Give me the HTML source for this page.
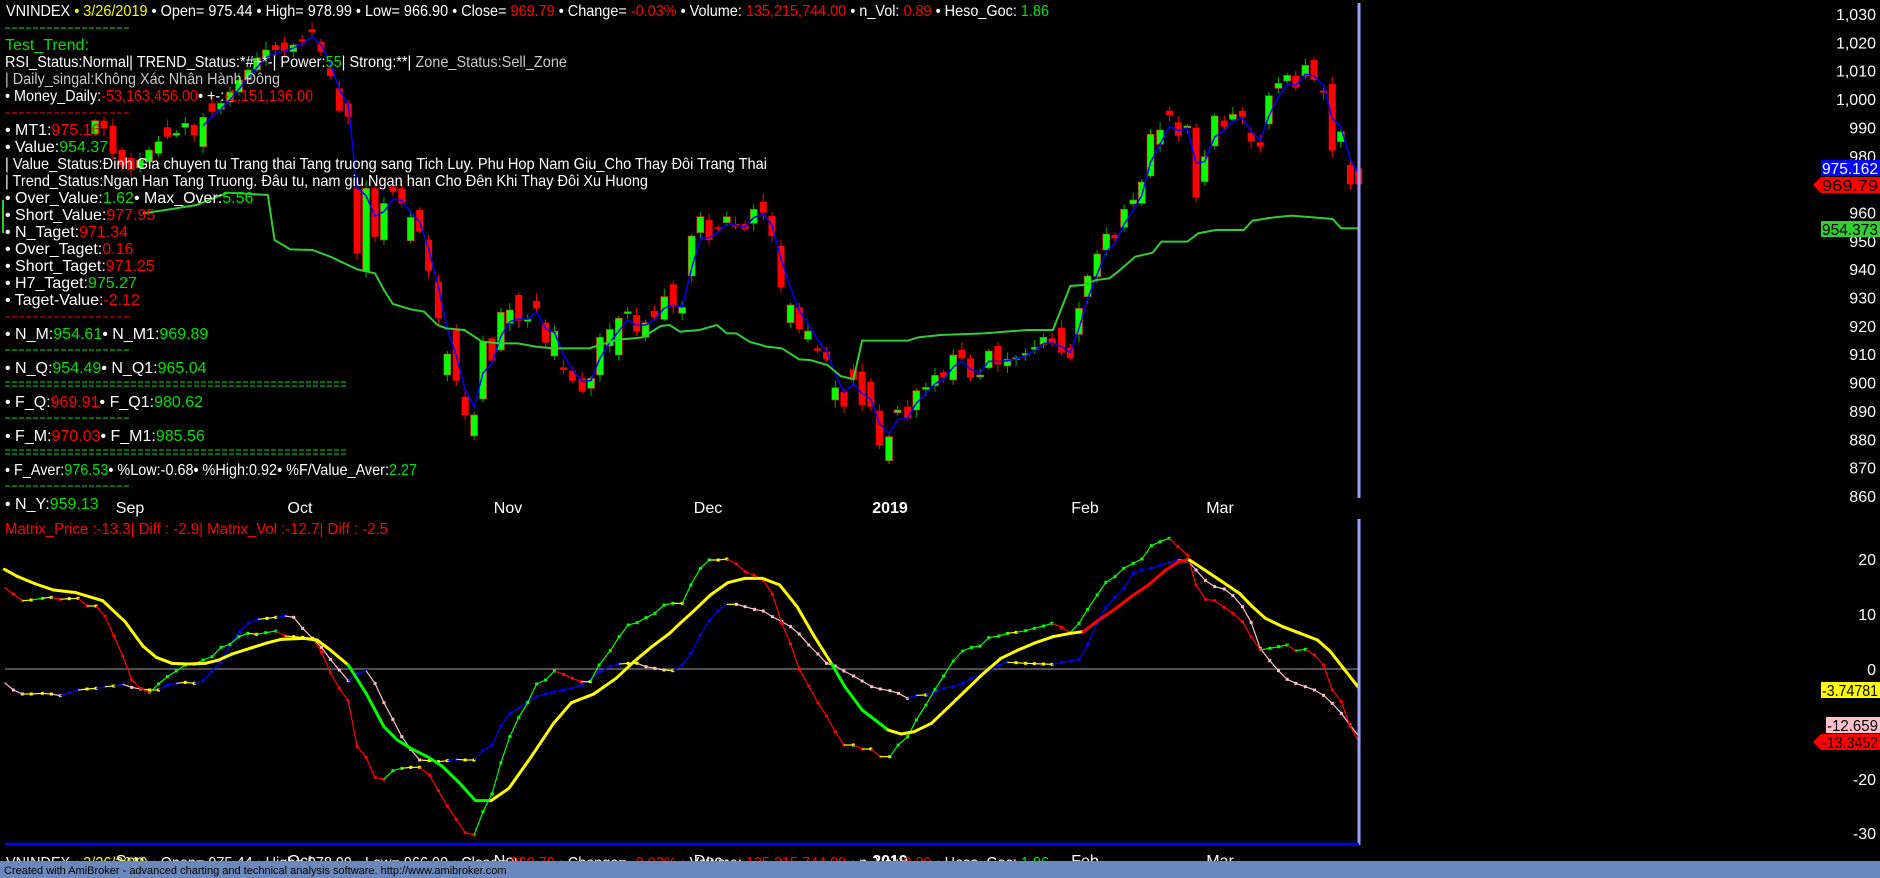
<!DOCTYPE html>
<html><head><meta charset="utf-8"><style>
html,body{margin:0;padding:0;background:#000;width:1880px;height:878px;overflow:hidden}
svg{display:block}
text{font-family:"Liberation Sans",Arial,sans-serif;font-size:16px}
</style></head><body>
<svg id="s" width="1880" height="878" viewBox="0 0 1880 878" xmlns="http://www.w3.org/2000/svg">
<rect x="0" y="0" width="1880" height="878" fill="#000"/>
<g id="top"></g>
<g id="bot"></g>
<g id="txt" fill="#fff"></g>
<rect x="0" y="861" width="1880" height="17" fill="#6a88bb"/>
<text x="4" y="874" style="font-size:11px" fill="#000">Created with AmiBroker - advanced charting and technical analysis software. http://www.amibroker.com</text>
</svg>
<script>
const NS="http://www.w3.org/2000/svg";
function el(p,t,a,txt){const e=document.createElementNS(NS,t);for(const k in a)e.setAttribute(k,a[k]);if(txt!==undefined)e.textContent=txt;p.appendChild(e);return e;}
const S=document.getElementById('s'),TOP=document.getElementById('top'),BOT=document.getElementById('bot'),TX=document.getElementById('txt');
const L=(p,o)=>[p[0]/2.24,p[1]/3+o], R=(p,o)=>[680+p[0]/2.306,p[1]/3+o];
function merge(l,r,o){const a=l.map(p=>L(p,o)).filter(p=>p[0]<678);return a.concat(r.map(p=>R(p,o)));}

const lc=[[213,362,402,'g'],[233,362,385,'r'],[253,377,460,'r'],[355,425,460,'g'],[375,382,410,'r'],[395,400,404,'g'],[415,370,382,'g'],[435,375,405,'r'],[455,352,440,'g'],[475,310,335,'r'],[495,310,328,'g'],
[617,135,150,'r'],[637,128,155,'r'],[657,135,155,'g'],[677,118,125,'r'],[699,88,97,'r'],[719,125,155,'r'],[740,205,228,'r'],[760,265,332,'r'],[780,310,350,'r'],
[800,565,760,'r'],[820,565,815,'g'],[840,565,710,'r'],[860,610,720,'g'],[880,560,575,'r'],[900,565,610,'r'],[920,652,722,'g'],[940,630,695,'r'],[960,720,812,'r'],[982,845,955,'r'],[1002,1062,1125,'g'],[1022,990,1142,'r'],[1042,1190,1245,'r'],[1062,1245,1308,'g'],[1082,1025,1197,'g'],[1102,1015,1082,'r'],[1122,937,1050,'g'],[1142,930,970,'g'],[1162,885,962,'r'],[1182,958,962,'g'],[1202,903,925,'r'],[1222,968,1028,'r'],[1242,993,1068,'g'],[1262,1102,1110,'r'],[1282,1112,1142,'r'],[1304,1135,1175,'r'],[1324,1135,1165,'g'],[1344,1012,1125,'g'],[1366,988,1038,'g'],[1386,955,1065,'g'],[1406,935,940,'g'],[1426,945,995,'r'],[1446,968,1012,'g'],[1466,933,952,'r'],[1488,890,958,'g'],[1508,853,920,'r']];
const rc=[[5,922,940,'g'],[27,708,828,'g'],[47,650,698,'g'],[67,660,720,'r'],[88,682,686,'r'],[108,650,668,'g'],[128,672,680,'r'],[150,672,687,'r'],[170,628,670,'g'],[192,605,638,'r'],[212,648,708,'r'],[233,738,862,'r'],[255,915,968,'g'],[275,922,987,'r'],[295,993,1018,'g'],[317,1045,1052,'r'],[338,1055,1078,'r'],[358,1163,1200,'g'],[378,1175,1220,'r'],[400,1108,1140,'r'],[420,1115,1215,'r'],[440,1145,1220,'r'],[460,1232,1335,'r'],[482,1310,1382,'g'],[502,1230,1238,'g'],[525,1220,1255,'r'],[545,1172,1230,'g'],[567,1162,1168,'g'],[588,1126,1157,'g'],[608,1117,1132,'r'],[630,1065,1140,'g'],[650,1050,1075,'r'],[670,1075,1133,'r'],[692,1125,1128,'g'],[712,1053,1103,'g'],[733,1038,1093,'r'],[755,1078,1098,'g'],[775,1073,1076,'g'],[797,1060,1064,'g'],[818,1042,1045,'g'],[838,1012,1033,'g'],[858,1015,1030,'r'],[880,983,1058,'r'],[900,1043,1075,'r'],[920,925,1003,'g'],[940,828,890,'g'],[962,762,830,'g'],[983,702,750,'g'],[1003,705,715,'r'],[1024,628,682,'g'],[1045,600,612,'g'],[1065,546,610,'g'],[1085,403,528,'g'],[1107,390,433,'g'],[1129,332,345,'r'],[1149,367,407,'r'],[1170,378,383,'g'],[1190,383,593,'r'],[1210,470,545,'g'],[1233,348,438,'g'],[1255,362,380,'r'],[1275,343,358,'g'],[1297,333,350,'r'],[1317,398,425,'r'],[1338,427,440,'r'],[1358,287,372,'g'],[1380,250,265,'g'],[1400,226,243,'g'],[1420,227,262,'r'],[1442,196,228,'g'],[1462,180,240,'r'],[1484,272,276,'r'],[1504,252,452,'r'],[1524,395,425,'g'],[1546,495,553,'r'],[1565,505,553,'r']];
let C=[];
lc.forEach(c=>C.push([c[0]/2.24,c[1]/3,c[2]/3,c[3]]));
[[230,92,102,'g'],[239,80,92,'g'],[248,70,80,'g'],[257,58,70,'g'],[266,50,58,'g'],[122,150,165,'r'],[131,158,170,'r'],[140,160,168,'g'],[149,150,162,'g']].forEach(c=>C.push(c));
rc.forEach(c=>C.push([680+c[0]/2.306,c[1]/3,c[2]/3,c[3]]));
C.sort((a,b)=>a[0]-b[0]);
let ema=null,bl=[];
C.forEach((c,i)=>{const cl=c[3]=='g'?c[1]:c[2];const v=(c[1]+c[2])/2*0.3+cl*0.7;ema=ema===null?v:ema*0.4+v*0.6;bl.push([c[0],ema]);});
C.forEach((c,i)=>{
  const x=c[0],col=c[3]=='g'?'#00ff00':'#ff0000';
  const h=Math.max(c[2]-c[1],2);
  const wk=((i*37)%11);
  el(TOP,'line',{x1:x,x2:x,y1:c[1]-2-wk*0.6,y2:c[1]+h+2+((i*53)%9)*0.7,stroke:c[3]=='g'?'#00b000':'#ff0000','stroke-width':1});
  el(TOP,'rect',{x:x-3.5,y:c[1],width:7,height:h,fill:col,stroke:c[3]=='g'?'#ff2020':'#ff0000','stroke-width':c[3]=='g'?0.6:0});
});
el(TOP,'polyline',{points:bl.slice(12).map(p=>p.join(',')).join(' '),fill:'none',stroke:'#0000ff','stroke-width':1.5});
const glL=[[320,640],[380,628],[440,615],[510,578],[600,585],[615,720],[650,748],[700,750],[740,770],[800,808],[840,820],[860,870],[880,912],[920,928],[950,935],[980,975],[1000,985],[1040,990],[1080,1025],[1120,1030],[1160,1030],[1200,1040],[1240,1045],[1320,1045],[1380,1020],[1440,1012],[1480,978],[1500,975],[1525,998]];
const glR=[[0,995],[45,990],[85,975],[108,1000],[130,1000],[160,1025],[200,1040],[235,1045],[275,1078],[300,1080],[340,1095],[370,1128],[400,1138],[420,1022],[525,1022],[550,1012],[600,1005],[700,1000],[800,990],[860,990],[900,858],[930,855],[960,840],[990,835],[1010,815],[1050,770],[1090,758],[1110,725],[1170,725],[1195,700],[1235,690],[1300,690],[1320,662],[1370,652],[1410,647],[1460,652],[1505,657],[1525,685],[1568,685]];
el(TOP,'polyline',{points:'3,200 3,233',fill:'none',stroke:'#33cc33','stroke-width':2});
el(TOP,'polyline',{points:merge(glL,glR,0).map(p=>p.join(',')).join(' '),fill:'none',stroke:'#33cc33','stroke-width':2});
el(S,'line',{x1:1359,x2:1359,y1:3,y2:498,stroke:'#a0a0ff','stroke-width':3});
el(S,'line',{x1:1359,x2:1359,y1:519,y2:845,stroke:'#a0a0ff','stroke-width':3});

for(let v=860;v<=1030;v+=10){const y=14+(1030-v)*2.835;el(S,'text',{x:1876,y:y+6,'text-anchor':'end',fill:'#fff'},v>=1000?('1,'+String(v-1000).padStart(3,'0')):String(v));}
function box(y,w,bg,fg,t,arrow){if(arrow)el(S,'polygon',{points:`${1880-w},${y} ${1880-w-8},${y+8} ${1880-w},${y+16}`,fill:bg});el(S,'rect',{x:1880-w,y:y,width:w,height:16,fill:bg});
  el(S,'text',{x:1880-w+1,y:y+14,fill:fg,textLength:w-3,lengthAdjust:'spacingAndGlyphs'},t);}
box(160,59,'#0000ff','#fff','975.162');
box(177,59,'#ff0000','#000','969.79',true);
box(221,59,'#33cc33','#000','954.373');

el(BOT,'line',{x1:5,x2:1359,y1:669,y2:669,stroke:'#808080','stroke-width':1.2});
[[20,559],[10,614],[0,669],[-20,779],[-30,833]].forEach(a=>el(S,'text',{x:1876,y:a[1]+6,'text-anchor':'end',fill:'#fff'},String(a[0])));
box(682,59,'#ffff00','#000','-3.74781');
box(717,54,'#ffc0cb','#000','-12.659');
box(734,59,'#ff0000','#000','-13.3452',true);
el(S,'line',{x1:5,x2:1359,y1:844,y2:844,stroke:'#0000ff','stroke-width':2.5});

const AL=[[10,232],[30,252],[50,272],[70,270],[95,265],[115,262],[135,268],[155,266],[175,265],[195,288],[215,288],[235,318],[255,378],[275,438],[295,510],[315,535],[335,548],[355,522],[375,500],[395,483],[415,465],[435,462],[455,450],[475,440],[495,412],[515,403],[535,380],[555,370],[575,373],[595,368],[618,363],[638,378],[658,380],[678,382],[700,385],[720,425],[740,488],[760,535],[780,572],[800,710],[820,742],[840,802],[860,808],[880,782],[900,775],[920,772],[940,772],[962,795],[982,842],[1002,888],[1022,928],[1042,968],[1062,975],[1082,905],[1102,852],[1122,758],[1142,680],[1162,622],[1182,578],[1202,522],[1222,510],[1242,483],[1262,493],[1282,505],[1302,515],[1322,515],[1342,465],[1367,422],[1387,380],[1407,345],[1427,338],[1447,323],[1467,310],[1487,285],[1507,280],[1527,280],[1548,225]];
const AR=[[5,280],[25,225],[47,175],[67,150],[88,150],[108,147],[130,162],[150,185],[170,195],[192,210],[213,252],[235,340],[255,402],[275,478],[297,528],[318,578],[338,618],[358,665],[378,705],[400,705],[420,717],[440,717],[462,740],[484,740],[503,705],[525,680],[545,630],[567,585],[588,538],[608,498],[630,453],[652,423],[672,412],[692,408],[712,383],[735,378],[755,370],[775,367],[797,362],[817,355],[838,348],[858,340],[880,352],[900,368],[920,340],[940,298],[962,255],[982,217],[1003,200],[1023,175],[1045,160],[1065,147],[1087,107],[1107,95],[1128,85],[1148,110],[1170,135],[1190,225],[1212,268],[1233,272],[1255,292],[1275,310],[1297,335],[1317,380],[1338,420],[1360,415],[1380,410],[1400,405],[1420,422],[1442,418],[1463,435],[1484,465],[1504,540],[1525,575],[1545,648],[1566,695]];
const BL=[[10,518],[30,540],[50,552],[70,552],[95,550],[115,552],[135,557],[155,548],[175,540],[195,537],[215,535],[235,530],[255,528],[275,523],[295,532],[315,537],[335,540],[355,540],[375,525],[395,520],[415,517],[435,520],[455,512],[475,482],[495,455],[515,405],[537,365],[557,338],[578,328],[598,325],[618,322],[638,318],[658,322],[678,355],[700,385],[720,412],[740,448],[760,480],[780,512],[800,492],[820,482],[840,520],[860,578],[880,628],[900,680],[920,718],[940,750],[962,752],[982,755],[1002,752],[1022,748],[1042,750],[1062,750],[1082,722],[1102,705],[1122,648],[1142,610],[1162,595],[1182,575],[1202,560],[1222,552],[1242,545],[1262,540],[1282,535],[1302,525],[1322,510],[1342,485],[1367,470],[1387,462],[1407,460],[1427,460],[1447,470],[1467,475],[1487,480],[1507,482],[1527,465],[1548,430]];
const BR=[[5,465],[25,430],[47,375],[67,332],[88,302],[108,283],[130,283],[150,290],[172,298],[192,303],[213,320],[235,335],[255,350],[275,372],[297,405],[318,432],[338,460],[358,468],[378,483],[400,498],[420,513],[442,530],[462,537],[484,542],[504,550],[525,565],[545,556],[567,555],[588,545],[608,535],[630,530],[652,520],[672,505],[692,495],[712,483],[735,465],[755,457],[775,458],[797,460],[817,461],[838,462],[858,463],[880,457],[900,453],[920,448],[940,403],[962,337],[982,292],[1003,262],[1023,235],[1045,190],[1065,180],[1087,175],[1107,165],[1128,158],[1148,150],[1170,150],[1190,180],[1212,212],[1233,230],[1255,237],[1275,257],[1297,290],[1317,337],[1338,415],[1360,452],[1380,482],[1400,508],[1420,520],[1442,530],[1463,540],[1484,556],[1504,580],[1525,610],[1545,645],[1566,680]];
const CL=[[10,178],[40,200],[80,222],[120,240],[170,248],[230,272],[280,335],[320,408],[350,442],[385,460],[420,462],[460,460],[490,450],[520,432],[560,415],[600,398],[630,388],[680,385],[710,390],[740,420],[780,465],[820,550],[860,650],[890,690],[920,715],[960,742],[990,768],[1030,820],[1065,872],[1100,872],[1140,835],[1190,740],[1240,640],[1280,578],[1330,552],[1380,505],[1420,455],[1460,410],[1500,370],[1540,335]];
const CR=[[0,340],[30,305],[70,255],[110,218],[150,205],[190,205],[230,225],[270,290],[310,380],[350,462],[380,530],[420,600],[450,630],[480,660],[510,672],[540,665],[580,640],[620,590],[660,540],[700,490],[740,445],[780,420],[820,398],[860,380],[900,370],[930,365],[960,335],[1000,300],[1040,260],[1080,225],[1120,180],[1150,155],[1175,150],[1210,180],[1250,215],[1290,250],[1320,290],[1350,325],[1390,350],[1430,370],[1470,390],[1500,425],[1530,475],[1566,535]];
function thin(pts,up,down,flat){
  for(let i=1;i<pts.length;i++){const a=pts[i-1],b=pts[i],d=b[1]-a[1];const c=d<-1.2?up:(d>1.2?down:flat);
    el(BOT,'line',{x1:a[0],y1:a[1],x2:b[0],y2:b[1],stroke:c,'stroke-width':1.2});
    el(BOT,'rect',{x:b[0]-1.5,y:b[1]-1.5,width:3,height:3,fill:c});}
}
const A=merge(AL,AR,510),B=merge(BL,BR,510),Cc=merge(CL,CR,510);
thin(B,'#0000ff','#ffc0cb','#ffff00');
thin(A,'#00ff00','#ff0000','#ffff00');
for(let i=1;i<Cc.length;i++){const a=Cc[i-1],b=Cc[i];const mx=(a[0]+b[0])/2;
  let c='#ffff00';if((mx>348&&mx<487)||(mx>832&&mx<892))c='#00ff00';if(mx>1088&&mx<1190)c='#ff0000';
  el(BOT,'line',{x1:a[0],y1:a[1],x2:b[0],y2:b[1],stroke:c,'stroke-width':3,'stroke-linecap':'round'});}

function T(x,y,parts,len){const t=el(TX,'text',{x:x,y:y});if(len){t.setAttribute('textLength',len);t.setAttribute('lengthAdjust','spacingAndGlyphs');}
  parts.forEach(p=>{el(t,'tspan',{fill:p[1]||'#fff'},p[0]);});return t;}
const W='#fff',G='#00e000',Rd='#ff0000',Y='#ffff00',Gr='#c8c8c8';
const HDR=[['VNINDEX ',W],['• 3/26/2019',Y],[' • Open= 975.44 • High= 978.99 • Low= 966.90 • Close= ',W],['969.79',Rd],[' • Change= ',W],['-0.03%',Rd],[' • Volume: ',W],['135,215,744.00',Rd],[' • n_Vol: ',W],['0.89',Rd],[' • Heso_Goc: ',W],['1.86',G]];
T(6,16,HDR,1043);
function dash(y,c,w){el(TX,'line',{x1:5,x2:w,y1:y,y2:y,stroke:c,'stroke-width':1,'stroke-dasharray':'5,2'});}
dash(28,G,130);
T(5,50,[['Test_Trend:',G]]);
T(5,67,[['RSI_Status:Normal| TREND_Status:*#+*-| Power:',W],['55',G],['| Strong:**| ',W],['Zone_Status:Sell_Zone',Gr]],562);
T(5,84,[['| Daily_singal:Không Xác Nhân Hành Đông',Gr]],275);
T(5,101,[['• Money_Daily:',W],['-53,163,456.00',Rd],['• +-:',W],['-1,151,136.00',Rd]],308);
dash(113,Rd,130);
T(5,135,[['• MT1:',W],['975.16',Rd]]);
T(5,152,[['• Value:',W],['954.37',G]]);
T(5,169,[['| Value_Status:Đinh Gia chuyen tu Trang thai Tang truong sang Tich Luy. Phu Hop Nam Giu_Cho Thay Đôi Trang Thai',W]],762);
T(5,186,[['| Trend_Status:Ngan Han Tang Truong. Đâu tu, nam giu Ngan han Cho Đên Khi Thay Đôi Xu Huong',W]],643);
T(5,203,[['• Over_Value:',W],['1.62',G],['• Max_Over:',W],['5.56',G]]);
T(5,220,[['• Short_Value:',W],['977.95',Rd]]);
T(5,237,[['• N_Taget:',W],['971.34',Rd]]);
T(5,254,[['• Over_Taget:',W],['0.16',Rd]]);
T(5,271,[['• Short_Taget:',W],['971.25',Rd]]);
T(5,288,[['• H7_Taget:',W],['975.27',G]]);
T(5,305,[['• Taget-Value:',W],['-2.12',Rd]]);
dash(317,Rd,130);
T(5,339,[['• N_M:',W],['954.61',G],['• N_M1:',W],['969.89',G]]);
dash(350,G,130);
T(5,373,[['• N_Q:',W],['954.49',G],['• N_Q1:',W],['965.04',G]]);
dash(382,G,347);dash(386,G,347);
T(5,407,[['• F_Q:',W],['969.91',Rd],['• F_Q1:',W],['980.62',G]]);
dash(418,G,130);
T(5,441,[['• F_M:',W],['970.03',Rd],['• F_M1:',W],['985.56',G]]);
dash(450,G,347);dash(454,G,347);
T(5,475,[['• F_Aver:',W],['976.53',G],['• %Low:-0.68• %High:0.92• %F/Value_Aver:',W],['2.27',G]],412);
dash(486,G,130);
T(5,509,[['• N_Y:',W],['959.13',G]]);
const cp=el(S,'clipPath',{id:'cp'});el(cp,'rect',{x:0,y:848,width:1360,height:13});
const g2=el(S,'g',{'clip-path':'url(#cp)'});
[['Sep',130],['Oct',300],['Nov',508],['Dec',708],['2019',890],['Feb',1085],['Mar',1220]].forEach(d=>{
  const t=el(TX,'text',{x:d[1],y:513,'text-anchor':'middle',fill:'#fff'},d[0]);if(d[0]=='2019')t.setAttribute('font-weight','bold');
  const t2=el(g2,'text',{x:d[1],y:866,'text-anchor':'middle',fill:'#fff'},d[0]);if(d[0]=='2019')t2.setAttribute('font-weight','bold');});
T(5,534,[['Matrix_Price :-13.3|   Diff : -2.9| Matrix_Vol :-12.7|   Diff : -2.5',Rd]],383);
const gt=el(g2,'text',{x:6,y:868,textLength:1043,lengthAdjust:'spacingAndGlyphs'});
HDR.forEach(p=>el(gt,'tspan',{fill:p[1]},p[0]));
</script>
</body></html>
